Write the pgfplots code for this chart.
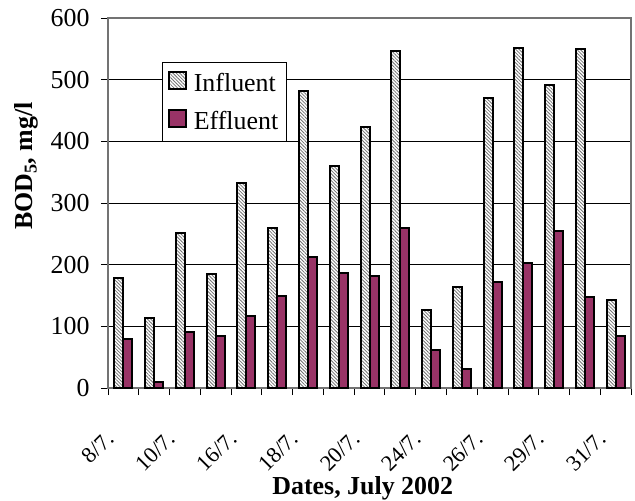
\documentclass[border=0pt]{standalone}
\usepackage{fontspec}
\setmainfont[Ligatures={TeX,NoCommon}]{Liberation Serif}
\usepackage{pgfplots}
\usepackage{pgfplotstable}
\pgfplotsset{compat=1.18}
\usetikzlibrary{patterns.meta}
\definecolor{plum}{HTML}{993366}

% square swatch for the legend
\pgfplotsset{
  square legend/.style={
    legend image code/.code={\draw[##1, line width=1.6bp] (2bp,-6bp) rectangle (19bp,11bp);}
  }
}

% BOD5 of influent and effluent, July 2002 (mg/l)
\pgfplotstableread{
idx infl eff
0   178  79
1   113   9
2   251  91
3   185  84
4   333 117
5   260 149
6   481 212
7   360 187
8   424 182
9   547 259
10  127  62
11  164  31
12  471 172
13  551 202
14  492 254
15  550 148
16  143  84
}\bod

\newcommand\chartfont{\fontsize{26}{30}\selectfont}
\newcommand\datefont{\fontsize{22.5}{26}\selectfont}

\begin{document}
\begin{tikzpicture}
\begin{axis}[
  scale only axis,
  width=523bp, height=370bp,
  ybar=0pt, bar width=9bp,
  xmin=-0.5, xmax=16.5, ymin=0, ymax=600,
  ytick={0,100,...,600},
  xtick={0,2,...,16},
  xticklabels={8/7.,10/7.,16/7.,18/7.,20/7.,24/7.,26/7.,29/7.,31/7.},
  minor xtick={-0.5,0.5,...,16.5},
  tick align=outside,
  tick pos=left,
  major tick length=7bp,
  minor tick length=7bp,
  major x tick style={draw=none},
  minor x tick style={black, line width=0.8bp},
  major y tick style={black, line width=0.8bp},
  ymajorgrids,
  grid style={black, line width=0.8bp},
  axis line style={draw=black!55, line width=1.2bp},
  /pgf/number format/assume math mode=true,
  yticklabel style={font=\chartfont, xshift=-8bp},
  xticklabel style={font=\datefont, xshift=-11bp, yshift=-38bp, rotate=45, anchor=east},
  xlabel={\textbf{Dates, July 2002}},
  ylabel={\textbf{BOD\textsubscript{5}, mg/l}},
  label style={font=\chartfont},
  xlabel style={at={(axis description cs:0.487,0)}, anchor=base, yshift=-106bp},
  ylabel style={at={(axis description cs:-0.1434,0.6)}, anchor=base},
  legend style={
    at={(axis description cs:0.103,0.881)}, anchor=north west,
    draw=black, line width=0.8bp, font=\chartfont,
    inner xsep=6bp, inner ysep=9bp, row sep=14bp,
    /tikz/every odd column/.append style={column sep=5bp},
  },
  legend cell align=left,
]
\addplot[
  draw=black, line width=2bp,
  preaction={fill=white},
  pattern={Lines[angle=-45, distance=2.4bp, line width=0.8bp]},
  pattern color=black!55,
  square legend,
] table[x=idx, y=infl] {\bod};
\addlegendentry{Influent}
\addplot[
  draw=black, line width=2bp, fill=plum,
  square legend,
] table[x=idx, y=eff] {\bod};
\addlegendentry{Effluent}
\end{axis}
\pgfresetboundingbox
\useasboundingbox (-108bp,-113bp) rectangle (527bp,388bp);
\end{tikzpicture}
\end{document}
